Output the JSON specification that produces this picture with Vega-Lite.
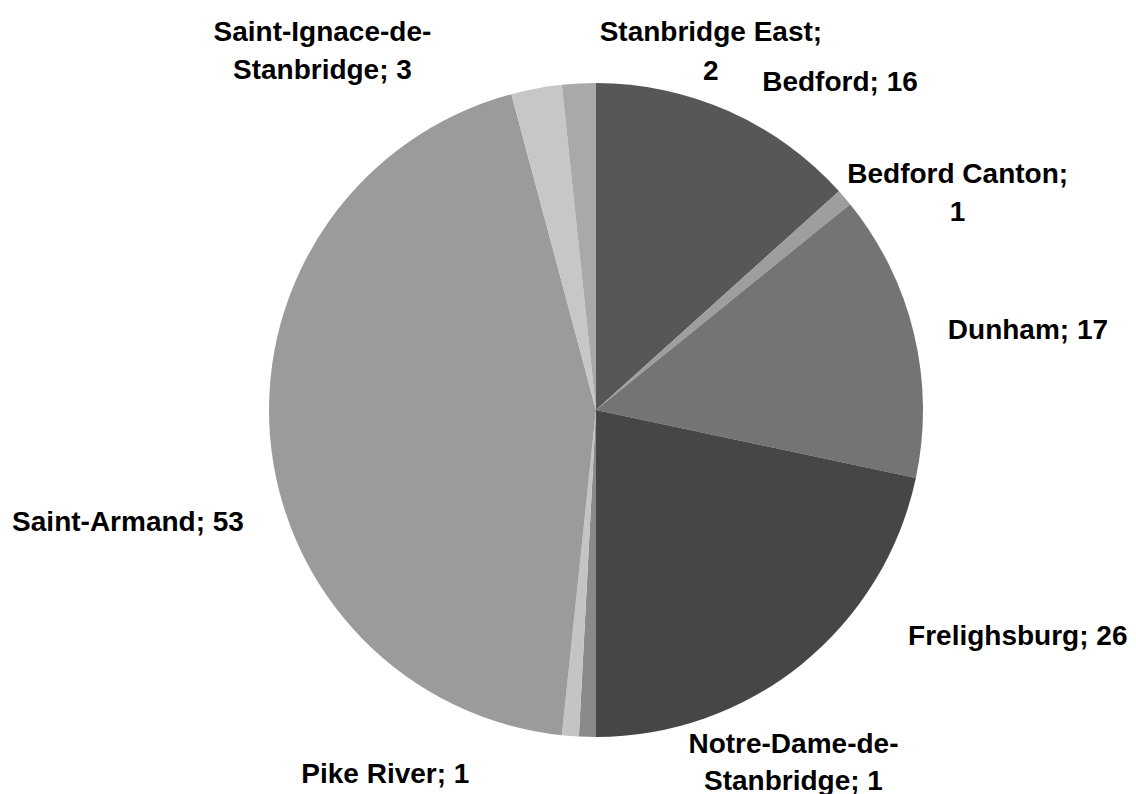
{
  "$schema": "https://vega.github.io/schema/vega-lite/v6.json",
  "width": 1080,
  "height": 768,
  "autosize": {"type": "none"},
  "padding": {"left": 56, "top": 26, "right": 0, "bottom": 0},
  "background": "white",
  "config": {"view": {"stroke": null}},
  "data": {
    "values": [
      {"name": "Bedford", "value": 16},
      {"name": "Bedford Canton", "value": 1},
      {"name": "Dunham", "value": 17},
      {"name": "Frelighsburg", "value": 26},
      {"name": "Notre-Dame-de-Stanbridge", "value": 1},
      {"name": "Pike River", "value": 1},
      {"name": "Saint-Armand", "value": 53},
      {"name": "Saint-Ignace-de-Stanbridge", "value": 3},
      {"name": "Stanbridge East", "value": 2}
    ]
  },
  "transform": [
    {"stack": "value", "groupby": [], "sort": [{"field": "name", "order": "ascending"}], "as": ["v0", "v1"]},
    {"calculate": "(datum.v0 + datum.v1) / 2", "as": "mid"},
    {"calculate": "indexof(['Bedford Canton','Stanbridge East'], datum.name) >= 0 ? datum.name + ';\\n' + datum.value : replace(datum.name, '-de-', '-de-\\n') + '; ' + datum.value", "as": "label"}
  ],
  "layer": [
    {
      "mark": {"type": "arc", "outerRadius": 327},
      "encoding": {
        "theta": {"field": "v1", "type": "quantitative", "stack": null, "scale": {"zero": true, "nice": false}},
        "theta2": {"field": "v0"},
        "color": {
          "field": "name",
          "type": "nominal",
          "legend": null,
          "scale": {
            "domain": ["Bedford", "Bedford Canton", "Dunham", "Frelighsburg", "Notre-Dame-de-Stanbridge", "Pike River", "Saint-Armand", "Saint-Ignace-de-Stanbridge", "Stanbridge East"],
            "range": ["#575757", "#9e9e9e", "#747474", "#464646", "#8a8a8a", "#c4c4c4", "#9b9b9b", "#c7c7c7", "#a9a9a9"]
          }
        }
      }
    },
    {
      "transform": [{"filter": "datum.name === 'Bedford'"}],
      "mark": {"type": "text", "radius": 327, "dx": 111, "dy": -28, "font": "Liberation Sans", "fontWeight": "bold", "fontSize": 28, "lineBreak": "\n", "lineHeight": 38, "align": "center", "baseline": "middle", "color": "black"},
      "encoding": {"theta": {"field": "mid", "type": "quantitative", "stack": null}, "text": {"field": "label"}}
    },
    {
      "transform": [{"filter": "datum.name === 'Bedford Canton'"}],
      "mark": {"type": "text", "radius": 327, "dx": 113, "dy": -23, "font": "Liberation Sans", "fontWeight": "bold", "fontSize": 28, "lineBreak": "\n", "lineHeight": 38, "align": "center", "baseline": "middle", "color": "black"},
      "encoding": {"theta": {"field": "mid", "type": "quantitative", "stack": null}, "text": {"field": "label"}}
    },
    {
      "transform": [{"filter": "datum.name === 'Dunham'"}],
      "mark": {"type": "text", "radius": 327, "dx": 114, "dy": -3, "font": "Liberation Sans", "fontWeight": "bold", "fontSize": 28, "lineBreak": "\n", "lineHeight": 38, "align": "center", "baseline": "middle", "color": "black"},
      "encoding": {"theta": {"field": "mid", "type": "quantitative", "stack": null}, "text": {"field": "label"}}
    },
    {
      "transform": [{"filter": "datum.name === 'Frelighsburg'"}],
      "mark": {"type": "text", "radius": 327, "dx": 216, "dy": -27, "font": "Liberation Sans", "fontWeight": "bold", "fontSize": 28, "lineBreak": "\n", "lineHeight": 38, "align": "center", "baseline": "middle", "color": "black"},
      "encoding": {"theta": {"field": "mid", "type": "quantitative", "stack": null}, "text": {"field": "label"}}
    },
    {
      "transform": [{"filter": "datum.name === 'Notre-Dame-de-Stanbridge'"}],
      "mark": {"type": "text", "radius": 327, "dx": 206, "dy": 8, "font": "Liberation Sans", "fontWeight": "bold", "fontSize": 28, "lineBreak": "\n", "lineHeight": 37, "align": "center", "baseline": "middle", "color": "black"},
      "encoding": {"theta": {"field": "mid", "type": "quantitative", "stack": null}, "text": {"field": "label"}}
    },
    {
      "transform": [{"filter": "datum.name === 'Pike River'"}],
      "mark": {"type": "text", "radius": 327, "dx": -185, "dy": 39, "font": "Liberation Sans", "fontWeight": "bold", "fontSize": 28, "lineBreak": "\n", "lineHeight": 38, "align": "center", "baseline": "middle", "color": "black"},
      "encoding": {"theta": {"field": "mid", "type": "quantitative", "stack": null}, "text": {"field": "label"}}
    },
    {
      "transform": [{"filter": "datum.name === 'Saint-Armand'"}],
      "mark": {"type": "text", "radius": 327, "dx": -142, "dy": 87, "font": "Liberation Sans", "fontWeight": "bold", "fontSize": 28, "lineBreak": "\n", "lineHeight": 38, "align": "center", "baseline": "middle", "color": "black"},
      "encoding": {"theta": {"field": "mid", "type": "quantitative", "stack": null}, "text": {"field": "label"}}
    },
    {
      "transform": [{"filter": "datum.name === 'Saint-Ignace-de-Stanbridge'"}],
      "mark": {"type": "text", "radius": 327, "dx": -214, "dy": -55, "font": "Liberation Sans", "fontWeight": "bold", "fontSize": 28, "lineBreak": "\n", "lineHeight": 38, "align": "center", "baseline": "middle", "color": "black"},
      "encoding": {"theta": {"field": "mid", "type": "quantitative", "stack": null}, "text": {"field": "label"}}
    },
    {
      "transform": [{"filter": "datum.name === 'Stanbridge East'"}],
      "mark": {"type": "text", "radius": 327, "dx": 132, "dy": -50, "font": "Liberation Sans", "fontWeight": "bold", "fontSize": 28, "lineBreak": "\n", "lineHeight": 39, "align": "center", "baseline": "middle", "color": "black"},
      "encoding": {"theta": {"field": "mid", "type": "quantitative", "stack": null}, "text": {"field": "label"}}
    }
  ]
}
